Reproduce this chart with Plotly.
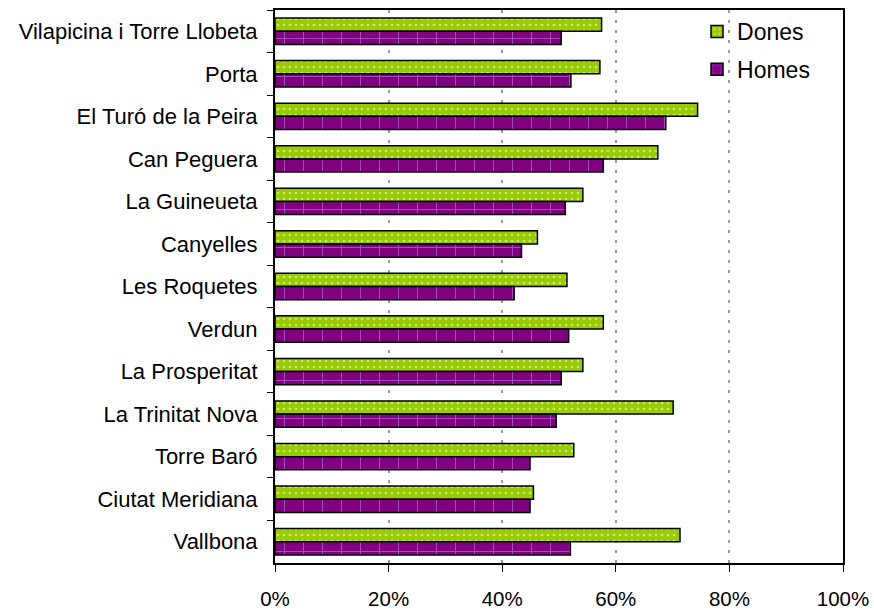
import plotly.graph_objects as go

barris = ["Vilapicina i Torre Llobeta", "Porta", "El Turó de la Peira", "Can Peguera",
          "La Guineueta", "Canyelles", "Les Roquetes", "Verdun", "La Prosperitat",
          "La Trinitat Nova", "Torre Baró", "Ciutat Meridiana", "Vallbona"]
dones = [57.5, 57.2, 74.4, 67.4, 54.2, 46.2, 51.4, 57.8, 54.2, 70.1, 52.6, 45.5, 71.3]
homes = [50.4, 52.1, 68.8, 57.8, 51.1, 43.4, 42.1, 51.7, 50.4, 49.5, 44.9, 44.9, 52.0]
ticks_x = [0, 20, 40, 60, 80, 100]
ticks_text = ["0%", "20%", "40%", "60%", "80%", "100%"]

fig = go.Figure()
fig.add_trace(go.Bar(
    y=barris, x=dones, name="Dones", orientation="h", legendgroup="d",
    marker=dict(color="#99CC00", line=dict(color="black", width=1.5),
                pattern=dict(shape=".", fgcolor="white", size=6, solidity=0.15)),
))
fig.add_trace(go.Bar(
    y=barris, x=homes, name="Homes", orientation="h", legendgroup="h",
    marker=dict(color="#800080", line=dict(color="black", width=1.5),
                pattern=dict(shape="+", fgcolor="#CC99FF", size=19, solidity=0.1)),
))

fig.update_layout(
    width=874, height=610,
    margin=dict(l=275, r=30.5, t=10, b=47),
    barmode="group", bargap=0.38, bargroupgap=0,
    plot_bgcolor="white", paper_bgcolor="white",
    font=dict(family="Liberation Sans, Arial, sans-serif", size=22, color="black"),
    showlegend=True,
    legend=dict(x=0.743, y=1.0, xanchor="left", yanchor="top",
                bgcolor="rgba(0,0,0,0)", font=dict(size=23),
                itemwidth=30, tracegroupgap=5),
)
fig.update_xaxes(
    range=[0, 100], tickvals=ticks_x, ticktext=ticks_text, automargin=False,
    tickfont=dict(size=20.5), ticklabelstandoff=9, ticklabeloverflow="allow",
    showgrid=True, gridcolor="#999999", griddash="3px,7px", gridwidth=1.5,
    showline=True, linecolor="black", linewidth=2, mirror=True,
    ticks="outside", ticklen=7, tickcolor="black", zeroline=False,
)
fig.update_yaxes(
    autorange="reversed", showgrid=False, ticklabelstandoff=11, automargin=False,
    showline=True, linecolor="black", linewidth=2, mirror=True,
    ticks="outside", tickson="boundaries", ticklen=6, tickcolor="black",
)

# the page body has a default 8px margin; drop it so the figure sits at 0,0
fig.write_html("out.html", config={"displayModeBar": False},
               post_script="document.body.style.margin = '0';")
